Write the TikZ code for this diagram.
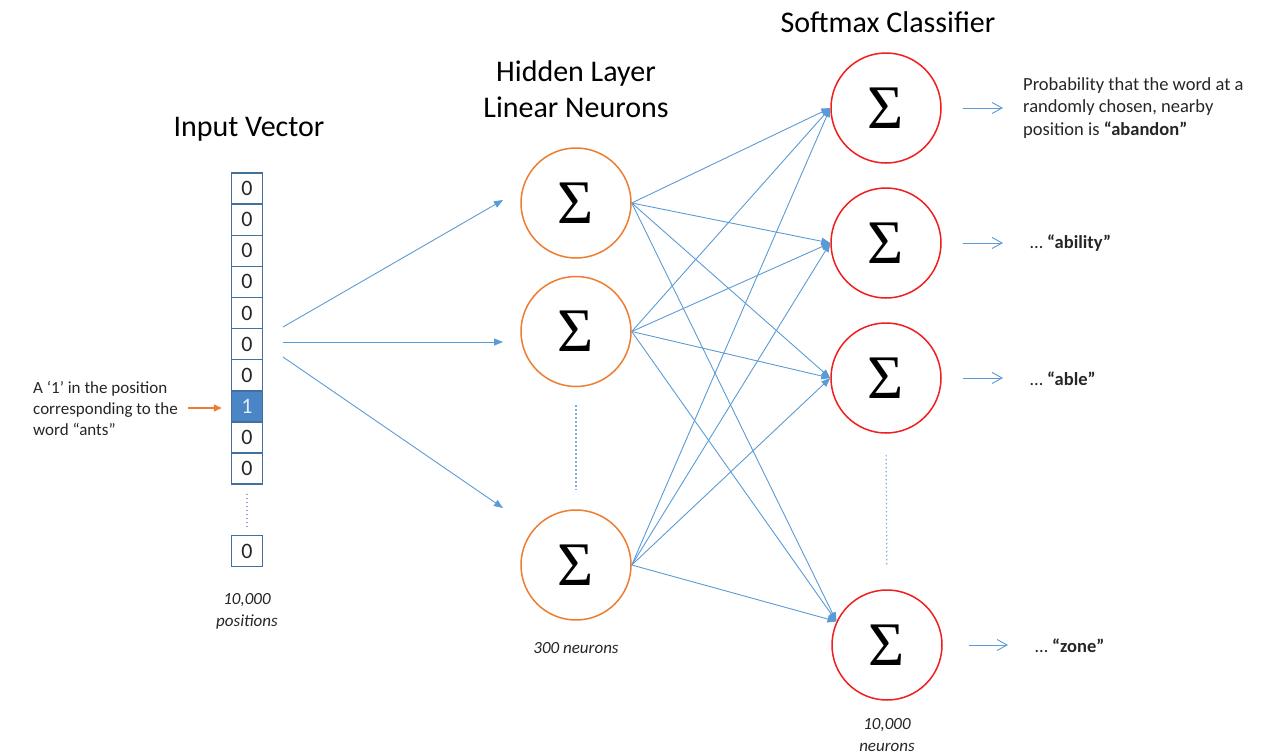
\documentclass[tikz,border=0pt]{standalone}
\usepackage{fontspec}
\setmainfont{Carlito}
\newfontfamily\sigmafont{Liberation Serif}
\usepackage{tikz}
\usetikzlibrary{arrows.meta, positioning}
\definecolor{vecblue}{HTML}{41719C}
\definecolor{hotblue}{HTML}{4A86C5}
\definecolor{linkblue}{HTML}{5B9BD5}
\definecolor{hidorange}{HTML}{ED7D31}
\definecolor{softred}{HTML}{F01E1E}
\definecolor{txtgray}{HTML}{262626}
\definecolor{dotgray}{HTML}{9C9CC4}
\tikzset{
  cell/.style={rectangle, draw=vecblue, line width=1.5pt, fill=white,
               minimum width=31pt, minimum height=31.1pt, inner sep=0pt,
               font=\fontsize{22}{22}\selectfont, text=txtgray},
  hot/.style={cell, fill=hotblue, text=white!85!hotblue},
  hid/.style={circle, draw=hidorange, line width=1.5pt, minimum size=110pt,
              inner sep=0pt, font=\sigmafont\fontsize{62}{62}\selectfont},
  soft/.style={hid, draw=softred},
  link/.style={-{Triangle[length=9pt, width=7pt]}, draw=linkblue, line width=0.9pt},
  outarr/.style={-{Straight Barb[length=10pt, width=11pt]}, draw=linkblue, line width=0.9pt},
  pointer/.style={-{Triangle[length=8pt, width=7pt]}, draw=hidorange, line width=1.6pt},
  ttl/.style={font=\fontsize{30}{36}\selectfont, align=center},
  note/.style={font=\fontsize{17}{21}\selectfont, text=txtgray, align=left, inner sep=0pt},
  rnote/.style={note, font=\fontsize{18.5}{22.5}\selectfont, anchor=west},
  cnt/.style={font=\fontsize{17}{22}\selectfont\itshape, text=txtgray, align=center, inner sep=0pt},
  vdots/.style={draw=dotgray, line width=1.2pt, dash pattern=on 1.5pt off 2.5pt},
  dots/.style={draw=linkblue!80, line width=1.2pt, dash pattern=on 1.5pt off 2.5pt}
}

\begin{document}
\begin{tikzpicture}[x=1pt, y=-1pt]
  \useasboundingbox (0,0) rectangle (1278,755);

  % titles
  \node[ttl] (tin) at (249,129) {Input Vector};
  \node[ttl] (thid) at (576,89) {Hidden Layer\\Linear Neurons};
  \node[ttl] (tsoft) at (888,22) {Softmax Classifier};

  % input vector
  \foreach \i in {1,...,7,9,10}
    \node[cell] (c\i) at (247,157.5+31.1*\i) {0};
  \node[hot] (c8) at (247,157.5+31.1*8) {1};
  \node[cell] (clast) at (247,551) {0};
  \draw[vdots, shorten <=9pt, shorten >=5pt] (c10.south) -- (clast.north);
  \node[cnt] (npos) at (247,611) {10,000\\positions};

  \node[note, anchor=west] (ants) at (33,408)
    {A ‘1’ in the position\\corresponding to the\\word “ants”};
  \draw[pointer, shorten <=10pt, shorten >=9pt] (ants.east) -- (ants.east -| c8.west);

  % hidden layer
  \node[hid] (h1) at (576,203) {Σ};
  \node[hid] (h2) at (576,331.5) {Σ};
  \node[hid] (h3) at (576,565) {Σ};
  \draw[dots, shorten <=18pt, shorten >=19pt] (h2.south) -- (h3.north);
  \node[cnt] (nhid) at (576,648) {300 neurons};

  \coordinate (o1) at (283,327);
  \coordinate (o2) at (283,342);
  \coordinate (o3) at (283,357);
  \coordinate (i1) at (503,200);
  \coordinate (i2) at (503,342);
  \coordinate (i3) at (503,508);
  \foreach \k in {1,2,3}
    \draw[link] (o\k) -- (i\k);

  % softmax layer
  \node[soft] (s1) at (886,108) {Σ};
  \node[soft] (s2) at (886,243) {Σ};
  \node[soft] (s3) at (886,378) {Σ};
  \node[soft] (s4) at (887,645) {Σ};
  \draw[dots, shorten <=21pt, shorten >=23pt] (s3.south) -- (s4.north);
  \node[cnt] (nsoft) at (887,735) {10,000\\neurons};

  \foreach \h in {1,2,3}
    \foreach \s/\a in {1/180,2/180,3/180,4/155}
      \draw[link] (h\h.east) -- (s\s.\a);

  % outputs
  \node[rnote] (p1) at (1023,108)
    {Probability that the word at a\\randomly chosen, nearby\\position is \textbf{“abandon”}};
  \node[rnote] (p2) at (1030,243) {… \textbf{“ability”}};
  \node[rnote] (p3) at (1030,379) {… \textbf{“able”}};
  \node[rnote] (p4) at (1035,646) {… \textbf{“zone”}};
  \foreach \k/\a/\b in {1/21/20,2/21/27,3/21/27,4/26/27}
    \draw[outarr, shorten <=\a pt, shorten >=\b pt] (s\k.east) -- (s\k.east -| p\k.west);
\end{tikzpicture}
\end{document}
